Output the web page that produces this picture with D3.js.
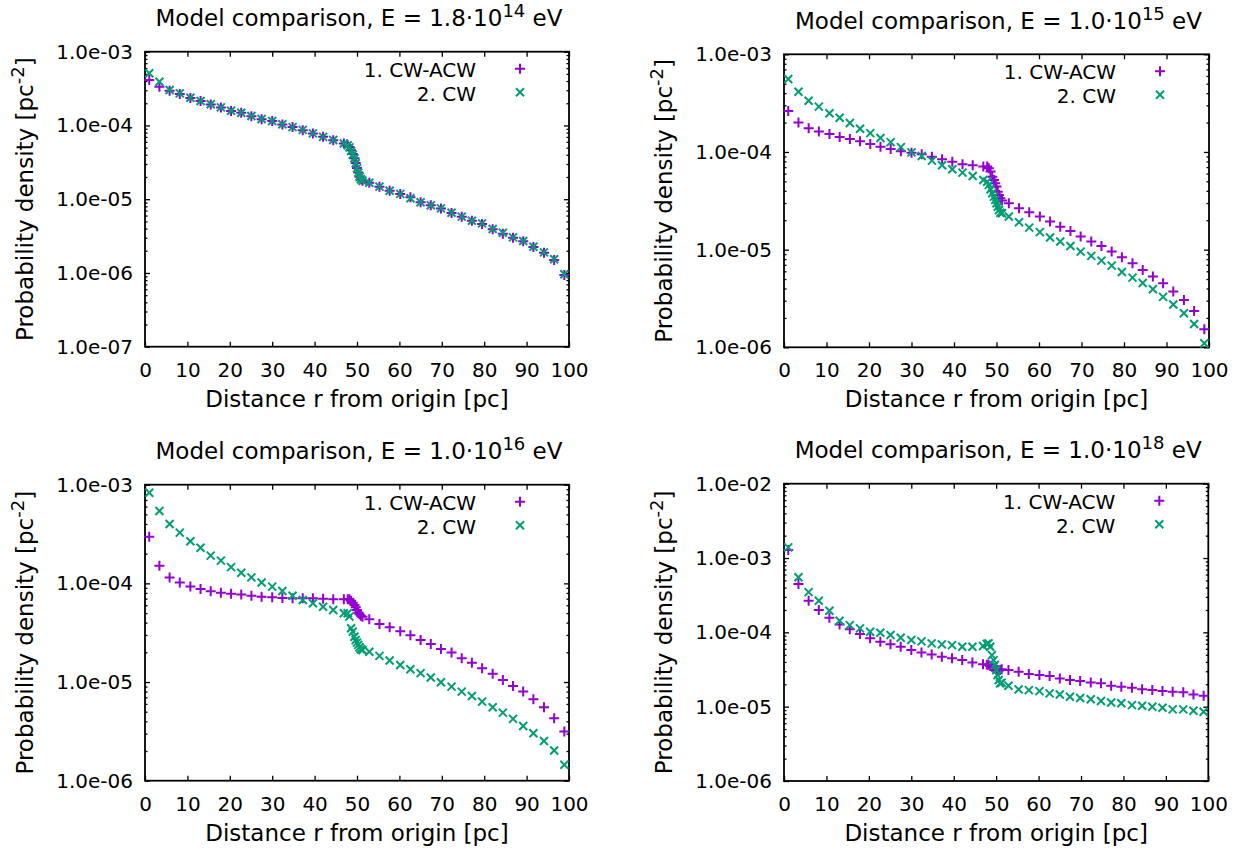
<!DOCTYPE html>
<html>
<head>
<meta charset="utf-8">
<script src="https://cdnjs.cloudflare.com/ajax/libs/d3/7.8.5/d3.min.js"></script>
<style>
    body { margin: 0; background: #fff; }
    svg text { font-family: "DejaVu Sans", sans-serif; fill: #000; }
</style>
</head>
<body>
<svg id="chart" width="1241" height="849"></svg>
<script>
// distance r [pc] of every sample (same for all four energies)
const radius = [1.0, 3.4, 5.8, 8.2, 10.7, 13.1, 15.5, 17.9, 20.3, 22.7,
    25.1, 27.5, 30.0, 32.4, 34.8, 37.2, 39.6, 42.0, 44.4, 46.9,
    47.8, 48.2, 48.6, 49.0, 49.4, 49.7, 50.0, 50.3, 50.6, 50.9, 51.3,
    52.9, 55.3, 57.7, 60.2, 62.6, 65.0, 67.4, 69.8, 72.3,
    74.7, 77.1, 79.5, 82.0, 84.4, 86.8, 89.2, 91.6, 94.1, 96.5, 98.9];

// E = 1.8e14 eV
const acw14 = [4.13e-4, 3.35e-4, 2.95e-4, 2.68e-4, 2.36e-4, 2.14e-4, 1.93e-4, 1.75e-4, 1.57e-4, 1.49e-4,
    1.33e-4, 1.21e-4, 1.15e-4, 1.03e-4, 9.5e-5, 8.6e-5, 7.8e-5, 7.0e-5, 6.3e-5, 5.7e-5,
    5.4e-5, 5.1e-5, 4.6e-5, 4.1e-5, 3.6e-5, 3.1e-5, 2.65e-5, 2.3e-5, 2.02e-5, 1.87e-5, 1.78e-5,
    1.67e-5, 1.48e-5, 1.30e-5, 1.18e-5, 1.06e-5, 9.1e-6, 8.3e-6, 7.5e-6, 6.5e-6,
    5.8e-6, 5.1e-6, 4.6e-6, 3.9e-6, 3.4e-6, 3.0e-6, 2.7e-6, 2.25e-6, 1.88e-6, 1.5e-6, 9.4e-7];
const cw14 = [5.1e-4, 3.92e-4, 3.03e-4, 2.72e-4, 2.38e-4, 2.15e-4, 1.94e-4, 1.76e-4, 1.58e-4, 1.49e-4,
    1.34e-4, 1.22e-4, 1.15e-4, 1.04e-4, 9.5e-5, 8.7e-5, 7.8e-5, 7.0e-5, 6.35e-5, 5.7e-5,
    5.4e-5, 5.05e-5, 4.5e-5, 4.0e-5, 3.6e-5, 3.07e-5, 2.62e-5, 2.29e-5, 2.02e-5, 1.86e-5, 1.78e-5,
    1.67e-5, 1.48e-5, 1.30e-5, 1.18e-5, 1.03e-5, 9.1e-6, 8.3e-6, 7.5e-6, 6.56e-6,
    5.8e-6, 5.1e-6, 4.7e-6, 3.94e-6, 3.5e-6, 3.04e-6, 2.71e-6, 2.27e-6, 1.9e-6, 1.53e-6, 9.6e-7];

// E = 1.0e15 eV
const acw15 = [2.63e-4, 2.0e-4, 1.75e-4, 1.62e-4, 1.53e-4, 1.42e-4, 1.36e-4, 1.29e-4, 1.21e-4, 1.13e-4,
    1.07e-4, 1.02e-4, 9.8e-5, 9.5e-5, 8.95e-5, 8.4e-5, 7.96e-5, 7.5e-5, 7.3e-5, 7.08e-5,
    7.08e-5, 6.8e-5, 6.3e-5, 5.58e-5, 5.17e-5, 4.78e-5, 4.42e-5, 3.92e-5, 3.63e-5, 3.36e-5, 3.18e-5,
    2.99e-5, 2.65e-5, 2.42e-5, 2.18e-5, 1.94e-5, 1.72e-5, 1.55e-5, 1.36e-5, 1.21e-5,
    1.09e-5, 9.55e-6, 8.36e-6, 7.26e-6, 6.2e-6, 5.3e-6, 4.53e-6, 3.72e-6, 3.05e-6, 2.36e-6, 1.53e-6];
const cw15 = [5.58e-4, 4.14e-4, 3.35e-4, 2.91e-4, 2.49e-4, 2.24e-4, 1.98e-4, 1.73e-4, 1.56e-4, 1.39e-4,
    1.26e-4, 1.12e-4, 9.9e-5, 9.1e-5, 8.15e-5, 7.3e-5, 6.65e-5, 6.14e-5, 5.68e-5, 5.17e-5,
    4.96e-5, 4.6e-5, 4.15e-5, 3.78e-5, 3.49e-5, 3.23e-5, 2.98e-5, 2.75e-5, 2.55e-5, 2.39e-5, 2.36e-5,
    2.18e-5, 1.91e-5, 1.68e-5, 1.51e-5, 1.33e-5, 1.21e-5, 1.09e-5, 9.55e-6, 8.63e-6,
    7.72e-6, 6.86e-6, 5.91e-6, 5.17e-6, 4.56e-6, 3.93e-6, 3.28e-6, 2.74e-6, 2.23e-6, 1.73e-6, 1.10e-6];

// E = 1.0e16 eV
const acw16 = [2.97e-4, 1.51e-4, 1.15e-4, 1.02e-4, 9.27e-5, 8.78e-5, 8.32e-5, 8.05e-5, 7.87e-5, 7.69e-5,
    7.5e-5, 7.33e-5, 7.22e-5, 7.11e-5, 7.06e-5, 7.06e-5, 7.06e-5, 7.0e-5, 6.9e-5, 6.9e-5,
    6.9e-5, 6.9e-5, 6.68e-5, 6.37e-5, 6.04e-5, 5.72e-5, 5.37e-5, 5.05e-5, 4.86e-5, 4.71e-5, 4.6e-5,
    4.33e-5, 3.88e-5, 3.59e-5, 3.27e-5, 2.98e-5, 2.67e-5, 2.43e-5, 2.16e-5, 1.99e-5,
    1.74e-5, 1.57e-5, 1.38e-5, 1.21e-5, 1.05e-5, 9.12e-6, 8.0e-6, 6.7e-6, 5.56e-6, 4.3e-6, 3.15e-6];
const cw16 = [8.3e-4, 5.42e-4, 4.0e-4, 3.27e-4, 2.67e-4, 2.3e-4, 1.91e-4, 1.7e-4, 1.46e-4, 1.28e-4,
    1.15e-4, 1.02e-4, 9.26e-5, 8.38e-5, 7.5e-5, 6.79e-5, 6.28e-5, 5.8e-5, 5.37e-5, 4.97e-5,
    4.97e-5, 4.6e-5, 3.51e-5, 3.24e-5, 2.88e-5, 2.67e-5, 2.51e-5, 2.38e-5, 2.25e-5, 2.15e-5, 2.11e-5,
    2.03e-5, 1.84e-5, 1.65e-5, 1.49e-5, 1.35e-5, 1.23e-5, 1.11e-5, 9.95e-6, 8.98e-6,
    8.0e-6, 7.23e-6, 6.33e-6, 5.55e-6, 4.9e-6, 4.23e-6, 3.59e-6, 3.03e-6, 2.53e-6, 2.02e-6, 1.45e-6];

// E = 1.0e18 eV
const acw18 = [1.28e-3, 4.47e-4, 2.66e-4, 2.0e-4, 1.57e-4, 1.28e-4, 1.1e-4, 9.48e-5, 8.3e-5, 7.48e-5,
    6.89e-5, 6.4e-5, 5.78e-5, 5.37e-5, 5.05e-5, 4.7e-5, 4.47e-5, 4.24e-5, 3.94e-5, 3.71e-5,
    3.66e-5, 3.66e-5, 3.52e-5, 3.44e-5, 3.36e-5, 3.27e-5, 3.18e-5, 3.11e-5, 3.05e-5, 3.11e-5, 3.18e-5,
    3.11e-5, 2.95e-5, 2.75e-5, 2.66e-5, 2.58e-5, 2.4e-5, 2.28e-5, 2.21e-5, 2.12e-5,
    2.06e-5, 1.91e-5, 1.85e-5, 1.8e-5, 1.72e-5, 1.67e-5, 1.62e-5, 1.59e-5, 1.56e-5, 1.46e-5, 1.4e-5];
const cw18 = [1.39e-3, 5.5e-4, 3.48e-4, 2.66e-4, 1.95e-4, 1.43e-4, 1.25e-4, 1.13e-4, 1.02e-4, 9.88e-5,
    9.2e-5, 8.46e-5, 7.87e-5, 7.56e-5, 7.11e-5, 6.89e-5, 6.74e-5, 6.4e-5, 6.4e-5, 6.55e-5,
    6.97e-5, 7.11e-5, 6.4e-5, 4.94e-5, 4.23e-5, 3.63e-5, 3.11e-5, 2.66e-5, 2.28e-5, 2.06e-5, 2.1e-5,
    1.91e-5, 1.71e-5, 1.67e-5, 1.62e-5, 1.51e-5, 1.46e-5, 1.36e-5, 1.31e-5, 1.26e-5,
    1.19e-5, 1.14e-5, 1.11e-5, 1.05e-5, 1.03e-5, 9.97e-6, 9.67e-6, 9.2e-6, 9.2e-6, 8.83e-6, 8.54e-6];

const seriesNames = ['1. CW-ACW', '2. CW'];
const energyMantissa = ['1.8', '1.0', '1.0', '1.0'];
const energyExponent = ['14', '15', '16', '18'];
const yRanges = [[1e-7, 1e-3], [1e-6, 1e-3], [1e-6, 1e-3], [1e-6, 1e-2]];
const xTickValues = [0, 10, 20, 30, 40, 50, 60, 70, 80, 90, 100];

const panelData = [[acw14, cw14], [acw15, cw15], [acw16, cw16], [acw18, cw18]];
const colors = ['#9400d3', '#009e73'];

// plot frames
const frames = [
    { left: 145, top: 51.7, right: 569, bottom: 346.7 },
    { left: 784, top: 54.3, right: 1209, bottom: 347.3 },
    { left: 145, top: 484.7, right: 569, bottom: 780.7 },
    { left: 784, top: 483.7, right: 1208.3, bottom: 781 }
];

const svg = d3.select('#chart');

function fmtExp(v) {
    const parts = v.toExponential(1).split('e');
    const n = +parts[1];
    return parts[0] + 'e' + (n < 0 ? '-' : '+') + String(Math.abs(n)).padStart(2, '0');
}

function marker(type) {
    if (type === 0) return 'M-5,0H5M0,-5V5';
    return 'M-4,-4L4,4M-4,4L4,-4';
}

function drawPanel(i) {
    const f = frames[i];
    const w = f.right - f.left;
    const h = f.bottom - f.top;
    const g = svg.append('g').attr('transform', `translate(${f.left},${f.top})`);

    const x = d3.scaleLinear().domain([0, 100]).range([0, w]);
    const y = d3.scaleLog().domain(yRanges[i]).range([h, 0]);

    const lo = Math.round(Math.log10(yRanges[i][0]));
    const hi = Math.round(Math.log10(yRanges[i][1]));
    const majors = d3.range(lo, hi + 1).map(e => Math.pow(10, e));
    const minors = [];
    d3.range(lo, hi).forEach(e => {
        for (let k = 2; k <= 9; k++) minors.push(k * Math.pow(10, e));
    });

    // axes, ticks pointing inward
    g.append('g').attr('class', 'ax')
        .call(d3.axisLeft(y).tickValues(majors).tickFormat(fmtExp).tickSize(-5).tickPadding(12));
    g.append('g').attr('class', 'ax')
        .call(d3.axisLeft(y).tickValues(minors).tickFormat('').tickSize(-2.5));
    g.append('g').attr('class', 'ax').attr('transform', `translate(${w},0)`)
        .call(d3.axisRight(y).tickValues(majors).tickFormat('').tickSize(-5));
    g.append('g').attr('class', 'ax').attr('transform', `translate(${w},0)`)
        .call(d3.axisRight(y).tickValues(minors).tickFormat('').tickSize(-2.5));
    g.append('g').attr('class', 'ax').attr('transform', `translate(0,${h})`)
        .call(d3.axisBottom(x).tickValues(xTickValues).tickFormat(d3.format('d')).tickSize(-5).tickPadding(16));
    g.append('g').attr('class', 'ax')
        .call(d3.axisTop(x).tickValues(xTickValues).tickFormat('').tickSize(-5));

    g.selectAll('.ax .domain').remove();
    g.selectAll('.ax line').attr('stroke', '#000').attr('stroke-width', 1.3);
    g.selectAll('.ax text').attr('font-size', '20px').attr('font-family', '"DejaVu Sans", sans-serif');

    g.append('rect')
        .attr('width', w).attr('height', h)
        .attr('fill', 'none').attr('stroke', '#000').attr('stroke-width', 1.8);

    // points
    panelData[i].forEach((vals, s) => {
        g.append('g').selectAll('path')
            .data(vals.map((v, k) => ({ r: radius[k], v: v })))
            .enter().append('path')
            .attr('transform', d => `translate(${x(d.r)},${y(d.v)})`)
            .attr('d', marker(s))
            .attr('fill', 'none')
            .attr('stroke', colors[s])
            .attr('stroke-width', 2);
    });

    // legend
    seriesNames.forEach((name, s) => {
        g.append('text')
            .attr('x', w - 93)
            .attr('y', 25 + s * 24)
            .attr('text-anchor', 'end')
            .attr('font-size', '20px')
            .text(name);
        g.append('path')
            .attr('transform', `translate(${w - 49},${17 + s * 23.5})`)
            .attr('d', marker(s))
            .attr('fill', 'none')
            .attr('stroke', colors[s])
            .attr('stroke-width', 2);
    });

    // title
    const title = g.append('text')
        .attr('x', w / 2 + 2)
        .attr('y', -25.5)
        .attr('text-anchor', 'middle')
        .attr('font-size', '23px');
    title.append('tspan').text(`Model comparison, E = ${energyMantissa[i]}\u00b710`);
    title.append('tspan').attr('font-size', '18px').attr('dy', -9).text(energyExponent[i]);
    title.append('tspan').attr('dy', 9).text(' eV');

    // axis labels
    g.append('text')
        .attr('x', w / 2)
        .attr('y', h + 60)
        .attr('text-anchor', 'middle')
        .attr('font-size', '23px')
        .text('Distance r from origin [pc]');

    const yl = g.append('text')
        .attr('transform', `translate(-112,${h / 2}) rotate(-90)`)
        .attr('text-anchor', 'middle')
        .attr('font-size', '23px');
    yl.append('tspan').text('Probability density [pc');
    yl.append('tspan').attr('font-size', '18px').attr('dy', -9).text('-2');
    yl.append('tspan').attr('dy', 9).text(']');
}

for (let i = 0; i < 4; i++) drawPanel(i);
</script>
</body>
</html>
